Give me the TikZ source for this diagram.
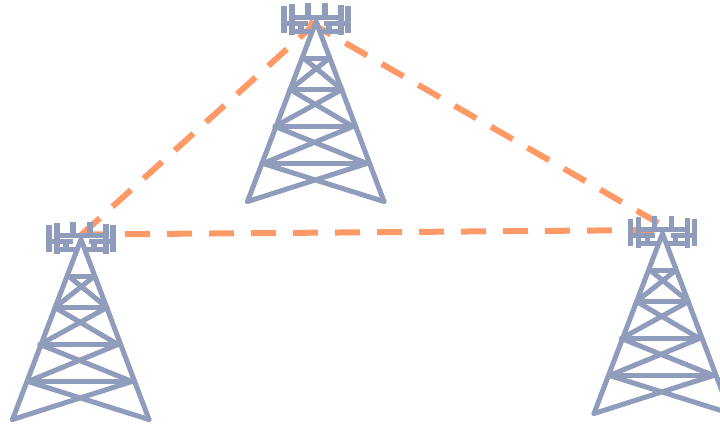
\documentclass[tikz,border=0pt]{standalone}
\definecolor{towerblue}{HTML}{909CBC}
\definecolor{linkorange}{HTML}{FF9966}
\tikzset{
  link/.style={draw=linkorange,line width=6pt,dash pattern=on 25pt off 17pt},
  strut/.style={draw=towerblue,line width=5pt,line cap=round,line join=round},
  bar/.style={draw=towerblue,line width=5.4pt},
  thinbar/.style={draw=towerblue,line width=5.4pt},
  tower/.pic={
    % coordinates relative to apex
    \draw[strut] (-68.5,180) -- (0,0) -- (68,180);
    \draw[strut] (-68.5,180) -- (51,142) (68,180) -- (-53,142);
    \draw[strut] (-53,142) -- (37,105) (51,142) -- (-41,105);
    \draw[strut] (-41,105) -- (26,68) (37,105) -- (-26,68);
    \draw[strut] (-26,68) -- (13,37) (26,68) -- (-12,37);
    \draw[bar] (-53,142) -- (51,142);
    \draw[bar] (-41,105) -- (37,105);
    \draw[bar] (-26,68) -- (26,68);
    \draw[bar] (-12,37) -- (13,37);
    \draw[bar] (-32,-15) -- (-32,12);
    \draw[bar] (-24,-17) -- (-24,14);
    \draw[bar] (-8,-18) -- (-8,-4);
    \draw[bar] (9,-18) -- (9,-4);
    \draw[bar] (25,-16) -- (25,14);
    \draw[bar] (32,-15) -- (32,12);
    \draw[thinbar] (-23,-4) -- (25,-4);
    \draw[thinbar] (-30,2) -- (-8,2) (8,2) -- (30,2);
    \draw[thinbar] (-24,10) -- (-3,10) (3,10) -- (24,10);
    \draw[bar] (-15,2) -- (-15,12);
    \draw[bar] (13,2) -- (13,12);
  }
}
\begin{document}
\begin{tikzpicture}[x=1pt,y=-1pt]
\useasboundingbox (0,0) rectangle (720,425);
\coordinate (topT) at (316,21.5);
\coordinate (leftT) at (81,239.5);
\coordinate (rightT) at (662.5,233.5);
\coordinate (topA) at (318,21);
\coordinate (topB) at (309,22);
\coordinate (leftA) at (80,236);
\coordinate (leftB) at (83,234.5);
\coordinate (rightA) at (660,224);
\coordinate (rightB) at (660,230);
\draw[link] (topA) -- (leftA);
\draw[link] (topB) -- (rightA);
\draw[link] (leftB) -- (rightB);
\begin{scope}
\clip (0,0) rectangle (720,425);
\pic at (topT) {tower};
\pic at (leftT) {tower};
\pic at (rightT) {tower};
\end{scope}
\end{tikzpicture}
\end{document}
